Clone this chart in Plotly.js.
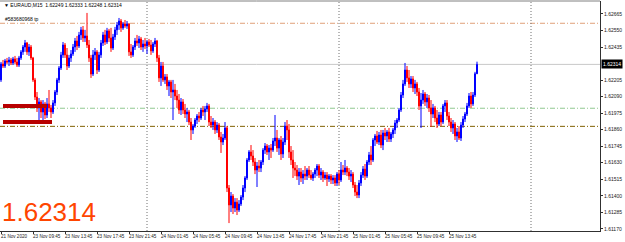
<!DOCTYPE html>
<html><head><meta charset="utf-8">
<script src="https://cdn.plot.ly/plotly-3.0.1.min.js"></script>
<style>html,body{margin:0;padding:0;background:#fff}#c{width:625px;height:242px}</style>
</head><body><div id="c"></div>
<script>
// EURAUD M15 bars (bar index 0..238)
const openP = [1.62206,1.62317,1.62303,1.62338,1.62331,1.62345,1.62324,1.62352,1.62331,1.62310,
1.62359,1.62401,1.62435,1.62463,1.62401,1.62435,1.62359,1.62206,1.62087,1.62011,
1.62053,1.61983,1.62039,1.61962,1.62039,1.62011,1.61983,1.62046,1.62122,1.62206,
1.62289,1.62380,1.62449,1.62380,1.62303,1.62359,1.62387,1.62435,1.62477,1.62442,
1.62519,1.62554,1.62498,1.62512,1.62449,1.62359,1.62247,1.62380,1.62401,1.62275,
1.62380,1.62463,1.62519,1.62470,1.62547,1.62498,1.62428,1.62505,1.62554,1.62588,
1.62616,1.62568,1.62595,1.62581,1.62595,1.62401,1.62380,1.62435,1.62477,1.62463,
1.62491,1.62435,1.62456,1.62442,1.62470,1.62449,1.62408,1.62456,1.62477,1.62359,
1.62220,1.62303,1.62206,1.62227,1.62164,1.62192,1.62122,1.62136,1.62094,1.62066,
1.61997,1.62053,1.61997,1.61969,1.61983,1.61913,1.61858,1.61885,1.61927,1.61955,
1.61941,1.61997,1.61983,1.62004,1.62025,1.61913,1.61892,1.61913,1.61858,1.61892,
1.61809,1.61774,1.61802,1.61872,1.61454,1.61336,1.61398,1.61315,1.61356,1.61301,
1.61343,1.61391,1.61454,1.61524,1.61649,1.61705,1.61677,1.61635,1.61579,1.61607,
1.61593,1.61635,1.61718,1.61746,1.61705,1.61732,1.61718,1.61781,1.61802,1.61732,
1.61788,1.61691,1.61774,1.61885,1.61858,1.61705,1.61649,1.61593,1.61579,1.61537,
1.61565,1.61524,1.61551,1.61537,1.61579,1.61544,1.61524,1.61551,1.61579,1.61607,
1.61544,1.61565,1.61524,1.61544,1.61517,1.61537,1.61510,1.61524,1.61489,1.61551,
1.61510,1.61579,1.61565,1.61593,1.61565,1.61537,1.61551,1.61475,1.61426,1.61405,
1.61489,1.61544,1.61586,1.61537,1.61635,1.61684,1.61649,1.61788,1.61816,1.61774,
1.61823,1.61753,1.61837,1.61816,1.61844,1.61795,1.61830,1.61858,1.61906,1.61927,
1.61997,1.62101,1.62178,1.62275,1.62220,1.62178,1.62213,1.62150,1.62178,1.62122,
1.62025,1.62066,1.62108,1.62053,1.62080,1.62011,1.61969,1.62011,1.61941,1.61899,
1.61962,1.61913,1.62025,1.62046,1.61955,1.61913,1.61872,1.61899,1.61816,1.61844,
1.61802,1.61892,1.61934,1.61969,1.62025,1.62094,1.62039,1.62101,1.62249];
const highP = [1.62331,1.62345,1.62352,1.62359,1.62366,1.62359,1.62366,1.62373,1.62359,1.62373,
1.62414,1.62449,1.62484,1.62470,1.62456,1.62449,1.62366,1.62220,1.62122,1.62080,
1.62066,1.62066,1.62053,1.62080,1.62136,1.62032,1.62066,1.62136,1.62220,1.62303,
1.62401,1.62470,1.62463,1.62428,1.62380,1.62414,1.62456,1.62498,1.62512,1.62540,
1.62575,1.62581,1.62554,1.62672,1.62484,1.62380,1.62414,1.62428,1.62414,1.62401,
1.62484,1.62540,1.62554,1.62568,1.62561,1.62568,1.62526,1.62575,1.62609,1.62637,
1.62630,1.62609,1.62623,1.62616,1.62602,1.62456,1.62449,1.62498,1.62519,1.62512,
1.62505,1.62484,1.62498,1.62484,1.62491,1.62484,1.62470,1.62498,1.62484,1.62380,
1.62331,1.62331,1.62247,1.62247,1.62206,1.62206,1.62206,1.62178,1.62136,1.62108,
1.62080,1.62073,1.62039,1.62011,1.61997,1.61941,1.61899,1.61941,1.61969,1.61983,
1.62011,1.62025,1.62025,1.62046,1.62039,1.61955,1.61941,1.61927,1.61913,1.61906,
1.61844,1.61830,1.61913,1.61885,1.61475,1.61426,1.61412,1.61384,1.61384,1.61370,
1.61405,1.61475,1.61537,1.61663,1.61718,1.61753,1.61718,1.61663,1.61635,1.61649,
1.61649,1.61732,1.61767,1.61760,1.61753,1.61760,1.61802,1.61962,1.61858,1.61802,
1.61816,1.61802,1.61913,1.61927,1.61899,1.61746,1.61718,1.61635,1.61614,1.61593,
1.61593,1.61579,1.61607,1.61593,1.61607,1.61579,1.61565,1.61593,1.61621,1.61621,
1.61593,1.61579,1.61565,1.61565,1.61551,1.61551,1.61544,1.61544,1.61565,1.61579,
1.61635,1.61614,1.61649,1.61607,1.61593,1.61579,1.61565,1.61496,1.61475,1.61510,
1.61565,1.61607,1.61621,1.61649,1.61705,1.61746,1.61802,1.61830,1.61851,1.61844,
1.61858,1.61858,1.61872,1.61858,1.61872,1.61844,1.61872,1.61927,1.61941,1.62011,
1.62122,1.62206,1.62324,1.62303,1.62275,1.62233,1.62233,1.62206,1.62192,1.62150,
1.62115,1.62136,1.62122,1.62108,1.62101,1.62066,1.62039,1.62025,1.61997,1.61983,
1.61983,1.62039,1.62066,1.62066,1.61983,1.61941,1.61927,1.61913,1.61872,1.61885,
1.61913,1.61955,1.61983,1.62046,1.62115,1.62122,1.62122,1.62262,1.62333];
const lowP = [1.62192,1.62289,1.62289,1.62317,1.62303,1.62310,1.62310,1.62317,1.62296,1.62296,
1.62345,1.62380,1.62401,1.62380,1.62373,1.62345,1.62192,1.62066,1.61983,1.61927,
1.61941,1.61920,1.61934,1.61941,1.61983,1.61941,1.61969,1.62025,1.62101,1.62185,
1.62275,1.62359,1.62359,1.62275,1.62289,1.62331,1.62373,1.62401,1.62414,1.62428,
1.62484,1.62470,1.62470,1.62428,1.62331,1.62220,1.62233,1.62345,1.62247,1.62261,
1.62359,1.62442,1.62449,1.62456,1.62470,1.62401,1.62414,1.62484,1.62519,1.62554,
1.62540,1.62554,1.62568,1.62561,1.62373,1.62359,1.62366,1.62414,1.62442,1.62428,
1.62414,1.62401,1.62421,1.62387,1.62435,1.62380,1.62394,1.62435,1.62331,1.62192,
1.62164,1.62192,1.62178,1.62136,1.62094,1.62080,1.61927,1.62066,1.62011,1.61969,
1.61962,1.61969,1.61941,1.61913,1.61892,1.61788,1.61830,1.61872,1.61899,1.61913,
1.61927,1.61955,1.61927,1.61983,1.61885,1.61872,1.61858,1.61830,1.61837,1.61788,
1.61698,1.61753,1.61788,1.61426,1.61210,1.61287,1.61273,1.61287,1.61266,1.61287,
1.61329,1.61370,1.61426,1.61510,1.61635,1.61649,1.61607,1.61551,1.61461,1.61565,
1.61565,1.61614,1.61691,1.61684,1.61649,1.61663,1.61705,1.61746,1.61705,1.61684,
1.61649,1.61663,1.61753,1.61788,1.61663,1.61614,1.61524,1.61537,1.61510,1.61475,
1.61496,1.61482,1.61510,1.61510,1.61524,1.61510,1.61503,1.61524,1.61537,1.61524,
1.61510,1.61496,1.61510,1.61468,1.61496,1.61482,1.61482,1.61468,1.61468,1.61475,
1.61496,1.61544,1.61544,1.61537,1.61510,1.61496,1.61454,1.61398,1.61384,1.61384,
1.61468,1.61524,1.61510,1.61524,1.61614,1.61614,1.61635,1.61746,1.61760,1.61753,
1.61732,1.61718,1.61788,1.61774,1.61774,1.61774,1.61802,1.61830,1.61872,1.61913,
1.61983,1.62080,1.62164,1.62192,1.62150,1.62150,1.62122,1.62108,1.62094,1.61997,
1.61872,1.62039,1.62025,1.62011,1.61983,1.61879,1.61941,1.61913,1.61872,1.61885,
1.61885,1.61899,1.61983,1.61927,1.61885,1.61844,1.61830,1.61788,1.61774,1.61788,
1.61781,1.61872,1.61913,1.61955,1.62011,1.62011,1.62025,1.62087,1.62248];
const closeP = [1.62317,1.62303,1.62338,1.62331,1.62345,1.62324,1.62352,1.62331,1.62310,1.62359,
1.62401,1.62435,1.62463,1.62401,1.62435,1.62359,1.62206,1.62087,1.62011,1.62053,
1.61983,1.62039,1.61962,1.62039,1.62011,1.61983,1.62046,1.62122,1.62206,1.62289,
1.62380,1.62449,1.62380,1.62303,1.62359,1.62387,1.62435,1.62477,1.62442,1.62519,
1.62554,1.62498,1.62512,1.62449,1.62359,1.62247,1.62380,1.62401,1.62275,1.62380,
1.62463,1.62519,1.62470,1.62547,1.62498,1.62428,1.62505,1.62554,1.62588,1.62616,
1.62568,1.62595,1.62581,1.62595,1.62401,1.62380,1.62435,1.62477,1.62463,1.62491,
1.62435,1.62456,1.62442,1.62470,1.62449,1.62408,1.62456,1.62477,1.62359,1.62220,
1.62303,1.62206,1.62227,1.62164,1.62192,1.62122,1.62136,1.62094,1.62066,1.61997,
1.62053,1.61997,1.61969,1.61983,1.61913,1.61858,1.61885,1.61927,1.61955,1.61941,
1.61997,1.61983,1.62004,1.62025,1.61913,1.61892,1.61913,1.61858,1.61892,1.61809,
1.61774,1.61802,1.61872,1.61454,1.61336,1.61398,1.61315,1.61356,1.61301,1.61343,
1.61391,1.61454,1.61524,1.61649,1.61705,1.61677,1.61635,1.61579,1.61607,1.61593,
1.61635,1.61718,1.61746,1.61705,1.61732,1.61718,1.61781,1.61802,1.61732,1.61788,
1.61691,1.61774,1.61885,1.61858,1.61705,1.61649,1.61593,1.61579,1.61537,1.61565,
1.61524,1.61551,1.61537,1.61579,1.61544,1.61524,1.61551,1.61579,1.61607,1.61544,
1.61565,1.61524,1.61544,1.61517,1.61537,1.61510,1.61524,1.61489,1.61551,1.61510,
1.61579,1.61565,1.61593,1.61565,1.61537,1.61551,1.61475,1.61426,1.61405,1.61489,
1.61544,1.61586,1.61537,1.61635,1.61684,1.61649,1.61788,1.61816,1.61774,1.61823,
1.61753,1.61837,1.61816,1.61844,1.61795,1.61830,1.61858,1.61906,1.61927,1.61997,
1.62101,1.62178,1.62275,1.62220,1.62178,1.62213,1.62150,1.62178,1.62122,1.62025,
1.62066,1.62108,1.62053,1.62080,1.62011,1.61969,1.62011,1.61941,1.61899,1.61962,
1.61913,1.62025,1.62046,1.61955,1.61913,1.61872,1.61899,1.61816,1.61844,1.61802,
1.61892,1.61934,1.61969,1.62025,1.62094,1.62039,1.62101,1.62249,1.62314];
const barIndex = openP.map((_, i) => i);

const timeTickBars = [0,16,32,48,64,80,96,112,128,144,160,176,192,208,224];
const timeTickText = ["21 Nov 2020","23 Nov 09:45","23 Nov 13:45","23 Nov 17:45","23 Nov 21:45",
"24 Nov 01:45","24 Nov 05:45","24 Nov 09:45","24 Nov 13:45","24 Nov 17:45","24 Nov 21:45",
"25 Nov 01:45","25 Nov 05:45","25 Nov 09:45","25 Nov 13:45"];
const priceTicks = [1.62665,1.62550,1.62435,1.62205,1.62090,1.61975,1.61860,1.61745,1.61630,1.61515,1.61400,1.61285,1.61170];
const daySeparatorBars = [73,169,265];

const tpPrice = 1.62600, greenLevel = 1.62009, oliveLevel = 1.61883;
const bidPrice = 1.62314;
const orderMarkA = {x:[1,23], y:[1.62025,1.62025]};
const orderMarkB = {x:[1,25.5], y:[1.61913,1.61913]};

const F = "Liberation Sans, Arial, DejaVu Sans, sans-serif";

const traces = [
  {type:'candlestick', x:barIndex, open:openP, high:highP, low:lowP, close:closeP,
   increasing:{line:{color:'#0000ff', width:1}, fillcolor:'#0000ff'},
   decreasing:{line:{color:'#ff0000', width:1}, fillcolor:'#ff0000'},
   whiskerwidth:0, hoverinfo:'skip', showlegend:false},
  {type:'scatter', mode:'lines', x:orderMarkA.x, y:orderMarkA.y, line:{color:'#b80000', width:4}, hoverinfo:'skip', showlegend:false},
  {type:'scatter', mode:'lines', x:orderMarkB.x, y:orderMarkB.y, line:{color:'#b80000', width:4}, hoverinfo:'skip', showlegend:false}
];

const hline = (y, color, dash, w) => ({type:'line', xref:'paper', x0:0, x1:1, yref:'y', y0:y, y1:y, line:{color, width:w||1, dash}, layer:'below'});
const shapes = [
  hline(tpPrice, '#e0a07a', '5px,2px,1px,2px'),
  hline(greenLevel, '#90c890', '5px,2px,1px,2px'),
  hline(oliveLevel, '#806000', '5px,2px,1px,2px'),
  hline(bidPrice, '#c8c8c8', 'solid'),
  {type:'line', xref:'paper', x0:0, x1:1, yref:'paper', y0:1, y1:1, line:{color:'#808080', width:1}}
].concat(daySeparatorBars.map(b => ({type:'line', xref:'x', x0:b, x1:b, yref:'paper', y0:0, y1:1,
  line:{color:'#707070', width:1, dash:'1px,2px'}, layer:'below'})));

const annotations = [
  {xref:'paper', yref:'paper', x:0.003, y:0.983, xanchor:'left', yanchor:'middle', showarrow:false,
   text:'▼ EURAUD,M15  1.62249 1.62333 1.62248 1.62314', font:{family:F, size:5, color:'#000'}},
  {xref:'paper', yref:'y', x:0.005, y:tpPrice, yshift:4, xanchor:'left', yanchor:'middle', showarrow:false,
   text:'#583680968 tp', font:{family:F, size:5, color:'#000'}},
  {xref:'paper', yref:'paper', x:0.0, y:0.01, xanchor:'left', yanchor:'bottom', showarrow:false,
   text:'1.62314', font:{family:F, size:26, color:'#ff4500'}},
  {xref:'paper', yref:'y', x:1, xshift:1, y:bidPrice, xanchor:'left', yanchor:'middle', showarrow:false,
   text:'1.62314', bgcolor:'#000000', borderpad:1, font:{family:F, size:5, color:'#ffffff'}}
].concat(timeTickBars.map((b, k) => ({xref:'x', yref:'paper', x:b, y:0, yshift:-2, xanchor:'left', yanchor:'top',
   xshift:-1, showarrow:false, text:timeTickText[k], font:{family:F, size:4.6, color:'#202020'}, borderpad:0})));

const layout = {
  width:625, height:242, margin:{l:0, r:25, t:1, b:11, pad:0},
  paper_bgcolor:'#ffffff', plot_bgcolor:'#ffffff', showlegend:false,
  xaxis:{range:[-0.5,299.5], tickmode:'array', tickvals:timeTickBars, showticklabels:false,
    ticks:'outside', ticklen:2, tickcolor:'#303030', showgrid:false, zeroline:false,
    showline:true, linecolor:'#303030', linewidth:1, rangeslider:{visible:false}, fixedrange:true},
  yaxis:{side:'right', range:[1.61155,1.62755], tickmode:'array', tickvals:priceTicks,
    ticktext:priceTicks.map(v => v.toFixed(5)), ticks:'outside', ticklen:2, tickcolor:'#303030',
    tickfont:{family:F, size:5, color:'#202020'}, showgrid:false, zeroline:false,
    showline:true, linecolor:'#303030', linewidth:1, fixedrange:true},
  shapes, annotations
};
Plotly.newPlot('c', traces, layout, {staticPlot:true, displayModeBar:false});
</script></body></html>
